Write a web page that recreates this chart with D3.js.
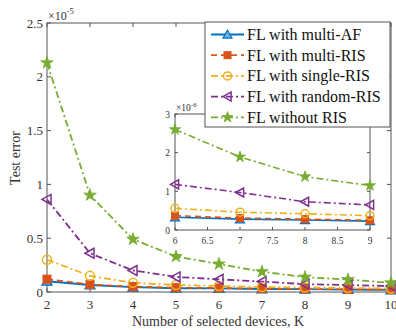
<!DOCTYPE html>
<html><head><meta charset="utf-8">
<script src="https://cdn.jsdelivr.net/npm/d3@7"></script>
<style>body{margin:0;background:#fff}svg{display:block}text{font-family:'Liberation Serif','Times New Roman',serif}</style>
</head><body>
<script>
const K = [2,3,4,5,6,7,8,9,10];
const seriesNames = ["FL with multi-AF","FL with multi-RIS","FL with single-RIS","FL with random-RIS","FL without RIS"];
// values in units of 1e-5
const multiAF   = [0.100,0.065,0.045,0.035,0.033,0.028,0.026,0.023,0.020];
const multiRIS  = [0.120,0.070,0.050,0.040,0.037,0.031,0.028,0.025,0.022];
const singleRIS = [0.300,0.150,0.085,0.065,0.056,0.046,0.042,0.037,0.033];
const randomRIS = [0.860,0.360,0.200,0.140,0.118,0.097,0.073,0.065,0.055];
const withoutRIS= [2.130,0.900,0.490,0.330,0.260,0.189,0.138,0.115,0.085];
const xTicks = [2,3,4,5,6,7,8,9,10];
const yTicks = [0,0.5,1,1.5,2,2.5];
const yTickLabels = ["0","0.5","1","1.5","2","2.5"];
const insetXTicks = [6,6.5,7,7.5,8,8.5,9];
const insetYTicks = [0,1,2,3];

const colors = ["#0072BD","#D95319","#EDB120","#7E2F8E","#77AC30"];
const dashes = [null,"6,4","7,3,2,3","7,3,2,3","7,3,2,3"];
const markers = ["triangle","square","circle","left","star"];
const data = [multiAF,multiRIS,singleRIS,randomRIS,withoutRIS];

const W=396,H=330;
const svg=d3.select("body").append("svg").attr("width",W).attr("height",H);
const axisCol="#555";

const x=d3.scaleLinear().domain([2,10]).range([47,391]);
const y=d3.scaleLinear().domain([0,2.5]).range([292,23]);

function drawMarker(g,type,cx,cy,col,s){
  if(type==="triangle"){
    g.append("path").attr("d",d3.symbol(d3.symbolTriangle,s*s*0.55)()).attr("transform",`translate(${cx},${cy+1})`).attr("fill","#6fb0e0").attr("stroke",col).attr("stroke-width",1.2);
  } else if(type==="square"){
    g.append("rect").attr("x",cx-s/2+0.5).attr("y",cy-s/2+0.5).attr("width",s-1).attr("height",s-1).attr("fill",col).attr("stroke",col).attr("stroke-width",1);
  } else if(type==="circle"){
    g.append("circle").attr("cx",cx).attr("cy",cy).attr("r",s/2).attr("fill","none").attr("stroke",col).attr("stroke-width",1.5);
  } else if(type==="left"){
    const r=s/2+0.5;
    g.append("path").attr("d",`M${cx-r},${cy}L${cx+r*0.8},${cy-r}L${cx+r*0.8},${cy+r}Z`).attr("fill","none").attr("stroke",col).attr("stroke-width",1.5);
  } else if(type==="star"){
    g.append("path").attr("d",d3.symbol(d3.symbolStar,s*s*0.6)()).attr("transform",`translate(${cx},${cy})`).attr("fill",col).attr("stroke",col).attr("stroke-width",0.8);
  }
}

const main=svg.append("g");
main.append("rect").attr("x",47).attr("y",23).attr("width",344).attr("height",269).attr("fill","#fff").attr("stroke",axisCol).attr("stroke-width",1);

xTicks.forEach(t=>{
  main.append("line").attr("x1",x(t)).attr("x2",x(t)).attr("y1",292).attr("y2",288).attr("stroke",axisCol);
  main.append("line").attr("x1",x(t)).attr("x2",x(t)).attr("y1",23).attr("y2",27).attr("stroke",axisCol);
  main.append("text").attr("x",x(t)).attr("y",309).attr("text-anchor","middle").attr("font-size",13).attr("fill","#333").text(t);
});
yTicks.forEach((t,i)=>{
  main.append("line").attr("x1",47).attr("x2",51).attr("y1",y(t)).attr("y2",y(t)).attr("stroke",axisCol);
  main.append("line").attr("x1",391).attr("x2",387).attr("y1",y(t)).attr("y2",y(t)).attr("stroke",axisCol);
  main.append("text").attr("x",43).attr("y",y(t)+4.5).attr("text-anchor","end").attr("font-size",13).attr("fill","#333").text(yTickLabels[i]);
});
main.append("text").attr("x",48).attr("y",20).attr("font-size",12).attr("fill","#333")
  .html('×10<tspan dy="-6" font-size="8.5">-5</tspan>');
main.append("text").attr("x",218).attr("y",326).attr("text-anchor","middle").attr("font-size",14).attr("fill","#333").text("Number of selected devices, K");
main.append("text").attr("transform","translate(20,158) rotate(-90)").attr("text-anchor","middle").attr("font-size",14).attr("fill","#333").text("Test error");

function drawSeries(g,xs,ys,vals,xsKeys,msize,lw){
  data.forEach((arr,i)=>{
    const pts=xsKeys.map(k=>[xs(k),ys(vals(arr,k))]);
    g.append("path").attr("d",d3.line()(pts)).attr("fill","none").attr("stroke",colors[i]).attr("stroke-width",lw)
      .attr("stroke-dasharray",dashes[i]);
  });
  data.forEach((arr,i)=>{
    xsKeys.forEach(k=>drawMarker(g,markers[i],xs(k),ys(vals(arr,k)),colors[i],msize));
  });
}
drawSeries(main,x,y,(arr,k)=>arr[K.indexOf(k)],K,9,1.8);

const ix=d3.scaleLinear().domain([6,9]).range([175,370]);
const iy=d3.scaleLinear().domain([0,3]).range([230,114]);
const inset=svg.append("g");
inset.append("rect").attr("x",175).attr("y",114).attr("width",195).attr("height",116).attr("fill","#fff").attr("stroke",axisCol).attr("stroke-width",1);
insetXTicks.forEach(t=>{
  inset.append("line").attr("x1",ix(t)).attr("x2",ix(t)).attr("y1",230).attr("y2",227).attr("stroke",axisCol);
  inset.append("line").attr("x1",ix(t)).attr("x2",ix(t)).attr("y1",114).attr("y2",117).attr("stroke",axisCol);
  inset.append("text").attr("x",ix(t)).attr("y",244).attr("text-anchor","middle").attr("font-size",9.5).attr("fill","#333").text(t);
});
insetYTicks.forEach(t=>{
  inset.append("line").attr("x1",175).attr("x2",178).attr("y1",iy(t)).attr("y2",iy(t)).attr("stroke",axisCol);
  inset.append("line").attr("x1",370).attr("x2",367).attr("y1",iy(t)).attr("y2",iy(t)).attr("stroke",axisCol);
  inset.append("text").attr("x",170).attr("y",iy(t)+3.5).attr("text-anchor","end").attr("font-size",9.5).attr("fill","#333").text(t);
});
inset.append("text").attr("x",176).attr("y",111).attr("font-size",9.5).attr("fill","#333")
  .html('×10<tspan dy="-4" font-size="7">-6</tspan>');
drawSeries(inset,ix,iy,(arr,k)=>arr[K.indexOf(k)]*10,[6,7,8,9],8,1.6);

const lg=svg.append("g");
lg.append("rect").attr("x",205).attr("y",22).attr("width",185).attr("height",105).attr("fill","#fff").attr("stroke",axisCol).attr("stroke-width",1);
seriesNames.forEach((n,i)=>{
  const yy=34.5+i*20.7;
  lg.append("line").attr("x1",211).attr("x2",244).attr("y1",yy).attr("y2",yy).attr("stroke",colors[i]).attr("stroke-width",1.8).attr("stroke-dasharray",dashes[i]);
  drawMarker(lg,markers[i],227.5,yy,colors[i],8);
  lg.append("text").attr("x",247).attr("y",yy+5.3).attr("font-size",16).attr("fill","#111").text(n);
});
</script>
</body></html>
